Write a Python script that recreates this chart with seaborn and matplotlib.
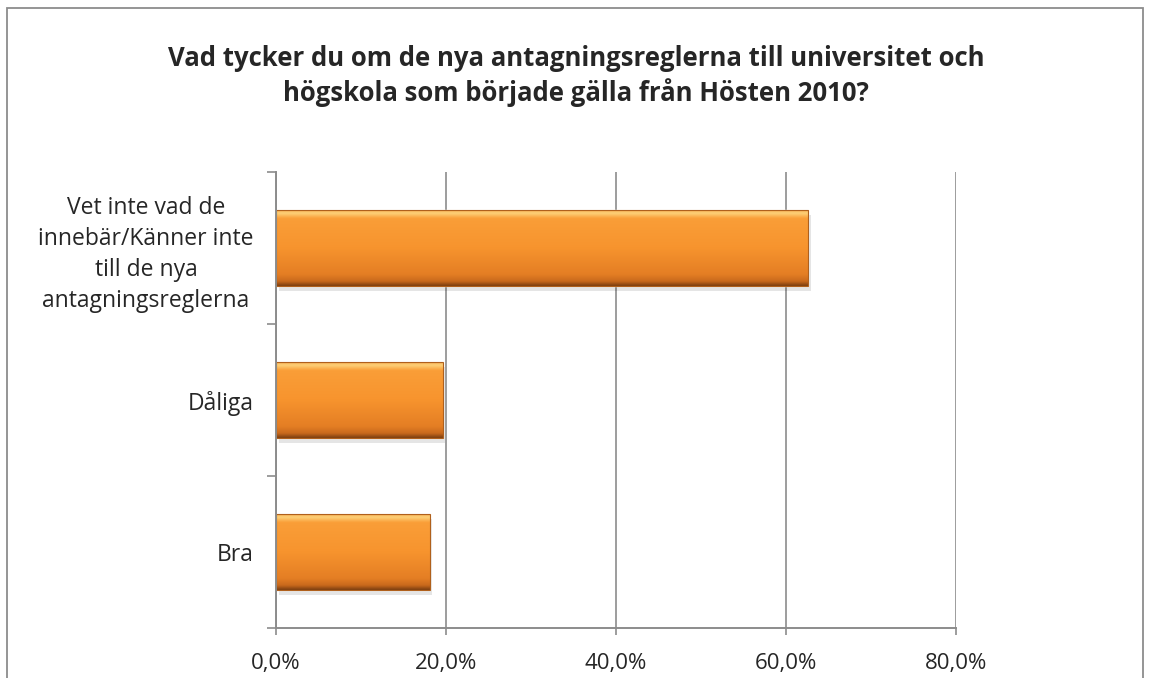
import numpy as np
import pandas as pd
import seaborn as sns
import matplotlib
matplotlib.use("Agg")
import matplotlib.pyplot as plt
from matplotlib.patches import Rectangle
from matplotlib.ticker import FuncFormatter, FixedLocator

# data
categories = ["Vet inte vad de\ninnebär/Känner inte\ntill de nya\nantagningsreglerna",
              "Dåliga", "Bra"]
values = [62.6, 19.6, 18.1]
x_ticks = [0, 20, 40, 60, 80]
title = ("Vad tycker du om de nya antagningsreglerna till universitet och\n"
         "högskola som började gälla från Hösten 2010?")

df = pd.DataFrame({"answer": categories, "share": values})

sns.set_style("white")
plt.rcParams["font.family"] = ["Open Sans", "DejaVu Sans"]

fig = plt.figure(figsize=(11.52, 6.78), dpi=100)
ax = fig.add_axes([0.2396, 0.0737, 0.5903, 0.6726])

sns.barplot(data=df, y="answer", x="share", orient="h", ax=ax,
            color="#F79646", width=0.5, saturation=1, zorder=3)

# gradient fill + bevel look on each bar
grad = np.linspace(0, 1, 256).reshape(-1, 1)
cmap = matplotlib.colors.LinearSegmentedColormap.from_list(
    "bar", [(0.0, "#F39A3A"), (0.05, "#FDD27A"), (0.12, "#FA9E38"),
            (0.5, "#F7942E"), (0.85, "#E47E24"), (0.94, "#C9691C"),
            (1.0, "#7A3E10")])
for p in ax.patches:
    x0, y0 = p.get_x(), p.get_y()
    w, h = p.get_width(), p.get_height()
    # soft shadow
    ax.add_patch(Rectangle((x0 + 0.3, y0 + 0.03), w, h, facecolor="#000000",
                           alpha=0.10, edgecolor="none", zorder=2))
    im = ax.imshow(grad, cmap=cmap, aspect="auto", zorder=4,
                   extent=[x0, x0 + w, y0 + h, y0], interpolation="bicubic")
    im.set_clip_path(p)
    ax.add_patch(Rectangle((x0, y0), w, h, facecolor="none",
                           edgecolor="#B0601C", linewidth=0.8, zorder=5))

ax.set_xlim(0, 80)
ax.set_ylim(2.5, -0.5)
ax.xaxis.set_major_locator(FixedLocator(x_ticks))
ax.xaxis.set_major_formatter(FuncFormatter(lambda v, _: f"{v:.1f}%".replace(".", ",")))
ax.grid(axis="x", color="#8C8C8C", linewidth=1.2, zorder=0)
ax.grid(axis="y", visible=False)

# category boundaries as major ticks, labels at centers
ax.yaxis.set_major_locator(FixedLocator([-0.5, 0.5, 1.5, 2.5]))
ax.yaxis.set_major_formatter(FuncFormatter(lambda v, _: ""))
ax.yaxis.set_minor_locator(FixedLocator([0, 1, 2]))
ax.set_yticklabels(categories, minor=True, multialignment="center",
                   fontsize=16.5, linespacing=1.38)
ax.tick_params(axis="y", which="major", length=6.5, width=1.2, color="#8C8C8C",
               direction="out", left=True)
ax.tick_params(axis="y", which="minor", length=0, pad=16)
ax.tick_params(axis="x", length=5, width=1.2, color="#8C8C8C", direction="out",
               bottom=True, labelsize=16, pad=13)
ax.set_xlabel("")
ax.set_ylabel("")

for side in ["top", "right"]:
    ax.spines[side].set_visible(False)
for side in ["left", "bottom"]:
    ax.spines[side].set_color("#8C8C8C")
    ax.spines[side].set_linewidth(1.4)
    ax.spines[side].set_zorder(6)

fig.text(0.5, 0.888, title, ha="center", va="center", fontsize=18.5,
         fontweight="bold", linespacing=1.3)

# outer chart frame
fig.patches.append(Rectangle((7 / 1152, -0.05), 1136 / 1152, 1.05 - 8 / 678,
                             transform=fig.transFigure, facecolor="none",
                             edgecolor="#8C8C8C", linewidth=1.3))

fig.savefig("out.png", dpi=100)
